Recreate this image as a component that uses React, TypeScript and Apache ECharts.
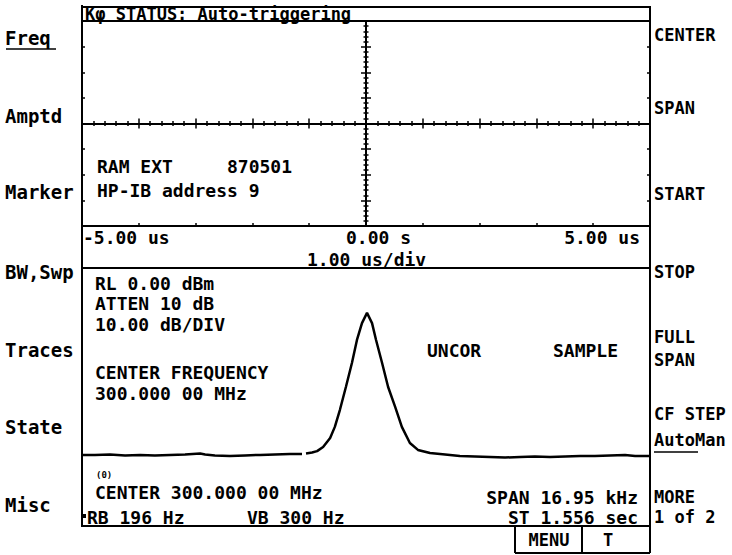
import React, { useEffect, useRef } from 'react';
import * as echarts from 'echarts';

// Spectrum trace: frequency offset from 300.000 00 MHz centre (kHz), level (dBm)
const freqOffsetKHz = [
  -8.475, -8.09, -7.64, -7.19, -6.74, -6.3, -5.85, -5.4, -4.95, -4.8, -4.51, -4.06, -3.61, -3.16, -2.72,
  -2.27, -1.91, -1.85, -1.79, -1.61, -1.46, -1.28, -1.07, -0.93, -0.78, -0.6, -0.42, -0.27, -0.12, 0.03,
  0.18, 0.3, 0.48, 0.66, 0.87, 1.07, 1.31, 1.55, 1.91, 2.36, 2.8, 3.25, 3.7, 4.15, 4.6, 5.04, 5.49, 5.94,
  6.39, 6.83, 7.28, 7.73, 8.03, 8.475,
];
const levelDbm: (number | null)[] = [
  -78.7, -78.7, -78.5, -78.9, -78.7, -78.9, -78.7, -78.5, -78.1, -78.5, -78.9, -79.2, -78.9, -78.7, -78.5,
  -78.3, -78.3, null, -78.1, -77.7, -77.1, -75.4, -71.6, -66.9, -59.8, -50.1, -40.0, -30.3, -23.2, -18.9,
  -23.2, -30.3, -40.0, -50.1, -58.5, -66.9, -73.7, -76.6, -77.9, -78.5, -79.2, -79.4, -79.6, -79.8, -79.6,
  -79.4, -79.6, -79.4, -79.2, -79.2, -78.9, -78.7, -79.2, -79.2,
];

const timeAxisLabels = ['-5.00 us', '0.00 s', '5.00 us'];
const timeDivLabel = '1.00 us/div';
const statusText = 'Kφ STATUS: Auto-triggering';
const leftSoftkeys = ['Freq', 'Amptd', 'Marker', 'BW,Swp', 'Traces', 'State', 'Misc'];
const rightSoftkeys = [['CENTER'], ['SPAN'], ['START'], ['STOP'], ['FULL', 'SPAN'], ['CF STEP', 'AutoMan'], ['MORE', '1 of 2']];
const infoTop = ['RAM EXT', '870501', 'HP-IB address 9'];
const infoLeft = ['RL 0.00 dBm', 'ATTEN 10 dB', '10.00 dB/DIV', 'CENTER FREQUENCY', '300.000 00 MHz'];
const infoMid = ['UNCOR', 'SAMPLE'];
const footerLeft = ['(0)', 'CENTER 300.000 00 MHz', 'RB 196 Hz', 'VB 300 Hz'];
const footerRight = ['SPAN 16.95 kHz', 'ST 1.556 sec'];
const menuKeys = ['MENU', 'T'];

// layout
const L = 82, R = 650;
const FONT = '"DejaVu Sans Mono", "Liberation Mono", monospace';

function txt(text: string, x: number, y: number, size = 18, align: string = 'left', weight = 'bold') {
  return {
    type: 'text', x, y, z: 20,
    style: { text, fill: '#000', font: `${weight} ${size}px ${FONT}`, textAlign: align, textVerticalAlign: 'middle' },
  };
}
function ln(x1: number, y1: number, x2: number, y2: number, w = 2) {
  return { type: 'line', z: 15, shape: { x1, y1, x2, y2 }, style: { stroke: '#000', lineWidth: w } };
}

const crossAxis = (pos: string, dim: 'x' | 'y') => ({
  gridIndex: 0,
  type: 'value',
  position: pos,
  min: dim === 'x' ? -5 : -4,
  max: dim === 'x' ? 5 : 4,
  interval: 1,
  axisLine: { show: true, onZero: true, lineStyle: { color: '#000', width: 2 } },
  axisTick: { show: true, length: 5, lineStyle: { color: '#000', width: 1.5 } },
  minorTick: { show: true, splitNumber: 5, length: 2.5, lineStyle: { color: '#000', width: 1.5 } },
  axisLabel: { show: false },
  splitLine: { show: false },
});

const edgeAxis = (pos: string, dim: 'x' | 'y') => ({
  gridIndex: 0,
  type: 'value',
  position: pos,
  min: dim === 'x' ? -5 : -4,
  max: dim === 'x' ? 5 : 4,
  interval: 1,
  axisLine: { show: false, onZero: false },
  axisTick: { show: true, inside: true, length: 3, lineStyle: { color: '#000', width: 1.5 } },
  axisLabel: { show: false },
  splitLine: { show: false },
});

export default function App() {
  const ref = useRef<HTMLDivElement>(null);
  useEffect(() => {
    const chart = echarts.init(ref.current!, null, { renderer: 'svg' });
    const leftY = [38, 116, 192, 272, 350, 427, 505];
    const rightY = [[35], [108], [194], [272], [337, 360], [414, 440], [497, 517]];

    const graphics: any[] = [
      // frame
      ln(L, 5, L, 527), ln(R, 6, R, 553), ln(L, 7, R, 7), ln(L, 268, R, 268), ln(L, 526, R, 526),
      // menu boxes
      ln(515, 526, 515, 553), ln(582, 526, 582, 553), ln(515, 553, R, 553),
      // underlines
      ln(6, 49, 56, 49, 1.5), ln(654, 452, 698, 452, 1.5),
      txt(statusText, 85, 14, 17),
      txt(timeAxisLabels[0], 83, 237, 18),
      txt(timeAxisLabels[1], 346, 237, 18),
      txt(timeAxisLabels[2], 640, 237, 18, 'right'),
      txt(timeDivLabel, 307, 259, 18),
      txt(infoTop[0], 97, 166, 18), txt(infoTop[1], 227, 166, 18), txt(infoTop[2], 97, 190, 18),
      txt(infoLeft[0], 95, 283, 18), txt(infoLeft[1], 95, 303, 18), txt(infoLeft[2], 95, 324, 18),
      txt(infoLeft[3], 95, 372, 18), txt(infoLeft[4], 95, 393, 18),
      txt(infoMid[0], 427, 350, 18), txt(infoMid[1], 553, 350, 18),
      txt(footerLeft[0], 96, 475, 9),
      txt(footerLeft[1], 95, 492, 18),
      { type: 'rect', z: 20, shape: { x: 83, y: 514, width: 3, height: 4 }, style: { fill: '#000' } },
      txt(footerLeft[2], 87, 517, 18), txt(footerLeft[3], 247, 517, 18),
      txt(footerRight[0], 638, 497, 18, 'right'), txt(footerRight[1], 638, 517, 18, 'right'),
      txt(menuKeys[0], 549, 540, 17, 'center'), txt(menuKeys[1], 608, 540, 17, 'center'),
    ];
    leftSoftkeys.forEach((k, i) => graphics.push(txt(k, 5, leftY[i], 19)));
    rightSoftkeys.forEach((ks, i) => ks.forEach((k, j) => graphics.push(txt(k, 654, rightY[i][j], 17))));

    chart.setOption({
      animation: false,
      backgroundColor: '#fff',
      grid: [
        { left: L, top: 21, width: R - L, height: 205, show: true, borderColor: '#000', borderWidth: 2, backgroundColor: 'transparent' },
        { left: L, top: 268, width: R - L, height: 190, show: false },
      ],
      xAxis: [
        crossAxis('bottom', 'x'),
        crossAxis('top', 'x'),
        { gridIndex: 1, type: 'value', min: -8.475, max: 8.475, show: false },
        edgeAxis('bottom', 'x'),
      ],
      yAxis: [
        crossAxis('left', 'y'),
        crossAxis('right', 'y'),
        { gridIndex: 1, type: 'value', min: -80, max: 0, show: false },
        edgeAxis('left', 'y'),
        edgeAxis('right', 'y'),
      ],
      series: [
        { type: 'line', xAxisIndex: 0, yAxisIndex: 0, data: [], silent: true },
        {
          type: 'line', xAxisIndex: 2, yAxisIndex: 2, showSymbol: false, symbol: 'none', connectNulls: false,
          lineStyle: { color: '#000', width: 2.5 },
          data: freqOffsetKHz.map((f, i) => [f, levelDbm[i] === null ? '-' : levelDbm[i]]),
        },
      ],
      graphic: graphics,
    });
    return () => chart.dispose();
  }, []);
  return <div ref={ref} style={{ position: 'fixed', left: 0, top: 0, width: 732, height: 555, background: '#fff' }} />;
}
